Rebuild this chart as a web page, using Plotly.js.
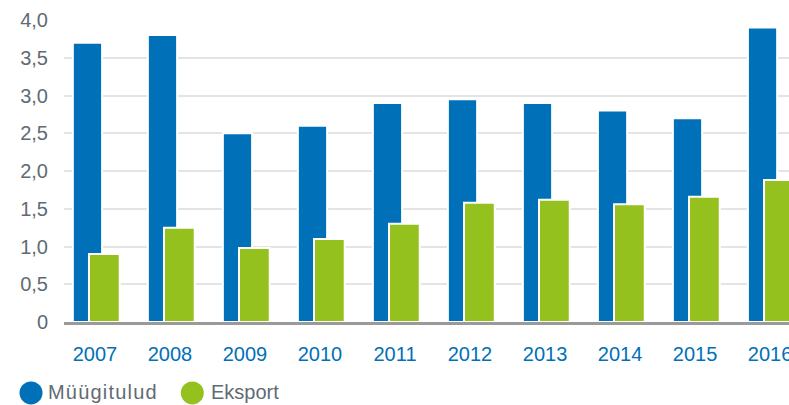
<!DOCTYPE html>
<html>
<head>
<meta charset="utf-8">
<script src="https://cdn.plot.ly/plotly-3.0.1.min.js"></script>
<style>
  html, body { margin: 0; padding: 0; background: #fff; }
  #chart { width: 789px; height: 405px; }
</style>
</head>
<body>
<div id="chart"></div>
<script>
// Years and the two series
const years = ['2007', '2008', '2009', '2010', '2011', '2012', '2013', '2014', '2015', '2016'];
const muugitulud = [3.7, 3.8, 2.5, 2.6, 2.9, 2.95, 2.9, 2.8, 2.7, 3.9];
const eksport = [0.9, 1.25, 0.98, 1.1, 1.3, 1.58, 1.62, 1.56, 1.66, 1.88];
const yTicks = [0, 0.5, 1, 1.5, 2, 2.5, 3, 3.5, 4];
const yTickText = ['0', '0,5', '1,0', '1,5', '2,0', '2,5', '3,0', '3,5', '4,0'];
const seriesNames = ['Müügitulud', 'Eksport'];

const blue = '#0070b8';
const green = '#95c11f';
const grey = '#5f6b73';
const font = 'Liberation Sans, Arial, sans-serif';

const traces = [
    {
        type: 'bar',
        name: seriesNames[0],
        x: years,
        y: muugitulud,
        width: 0.39,
        offset: -0.295,
        marker: { color: blue, line: { color: '#ffffff', width: 2 } }
    },
    {
        type: 'bar',
        name: seriesNames[1],
        x: years,
        y: eksport,
        width: 0.41,
        offset: -0.08,
        marker: { color: green, line: { color: '#ffffff', width: 2 } }
    }
];

// Legend drawn by hand: big round dots + labels under the axis
const legendDot = (xPaper, color) => ({
    type: 'circle', xref: 'paper', yref: 'paper',
    xsizemode: 'pixel', ysizemode: 'pixel',
    xanchor: xPaper, yanchor: -0.235,
    x0: -11.5, x1: 11.5, y0: -11.5, y1: 11.5,
    fillcolor: color, line: { width: 0 }
});
const legendLabel = (xPaper, text, spacing) => ({
    xref: 'paper', yref: 'paper', x: xPaper, y: -0.232,
    xanchor: 'left', yanchor: 'middle', showarrow: false,
    text: '<span style="letter-spacing:' + spacing + 'px">' + text + '</span>',
    font: { family: font, size: 20, color: grey }
});

const layout = {
    width: 789,
    height: 405,
    margin: { l: 64, r: 0, t: 20, b: 83, autoexpand: false },
    paper_bgcolor: '#ffffff',
    plot_bgcolor: '#ffffff',
    barmode: 'overlay',
    showlegend: false,
    font: { family: font, size: 20, color: grey },
    xaxis: {
        type: 'category',
        range: [-0.413, 9.253],
        showgrid: false,
        zeroline: false,
        showline: true,
        linecolor: '#9a9a9a',
        linewidth: 3,
        ticks: '',
        ticklabelstandoff: 12,
        tickfont: { family: font, size: 20, color: blue },
        fixedrange: true
    },
    yaxis: {
        range: [0, 4],
        tickvals: yTicks,
        ticktext: yTickText,
        showgrid: true,
        gridcolor: '#e4e4e4',
        gridwidth: 2,
        zeroline: false,
        showline: false,
        ticks: '',
        ticklabelstandoff: 15,
        tickfont: { family: font, size: 20, color: grey },
        fixedrange: true
    },
    shapes: [
        legendDot(-0.0455, blue),
        legendDot(0.177, green)
    ],
    annotations: [
        legendLabel(-0.025, seriesNames[0], 1.2),
        legendLabel(0.2, seriesNames[1], 0)
    ]
};

Plotly.newPlot('chart', traces, layout, { displayModeBar: false, staticPlot: true });
</script>
</body>
</html>
